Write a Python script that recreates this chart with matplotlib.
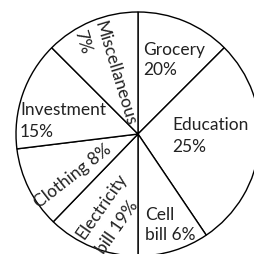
import matplotlib.pyplot as plt

# --- DADOS ---
categorias = ['Grocery', 'Education', 'Cell bill', 'Electricity bill',
              'Clothing', 'Investment', 'Miscellaneous']
percentuais = [20, 25, 6, 19, 8, 15, 7]
# tamanho das fatias como desenhadas na figura (graus, não proporcional)
angulos = [45, 101, 34, 44, 39, 52, 45]

plt.rcParams['font.family'] = ['Lato', 'DejaVu Sans']

fig = plt.figure(figsize=(2.55, 2.55), dpi=100)
ax = fig.add_axes([0, 0, 1, 1])

# pizza branca com contorno preto (centro em coordenadas de pixel)
ax.pie(angulos, startangle=90, counterclock=False, center=(138, 120),
       radius=122, colors=['white'] * len(angulos), frame=True,
       wedgeprops=dict(edgecolor='black', linewidth=1.0))
ax.set_xlim(0, 255)
ax.set_ylim(0, 255)
ax.set_aspect('equal')
ax.axis('off')

fs = 12.5
H = 255


def txt(x, y, s, **kw):
    ax.text(x, H - y, s, fontsize=fs, color='#222222', **kw)


# textos horizontais (x esquerda, y linha base em pixels da imagem)
txt(143, 55, categorias[0])
txt(143, 75, f'{percentuais[0]}%')
txt(172, 130, categorias[1])
txt(172, 152, f'{percentuais[1]}%')
txt(145, 220, 'Cell')
txt(145, 240, f'bill {percentuais[2]}%')
txt(20, 115, categorias[5])
txt(20, 137, f'{percentuais[5]}%')

# textos girados
txt(73, 176, f'{categorias[4]} {percentuais[4]}%', rotation=38,
    ha='center', va='center', rotation_mode='anchor')
txt(102, 206, 'Electricity', rotation=55, ha='center', va='center',
    rotation_mode='anchor')
txt(117, 227, f'bill {percentuais[3]}%', rotation=55, ha='center',
    va='center', rotation_mode='anchor')
txt(115, 73, categorias[6], rotation=-73, ha='center', va='center',
    rotation_mode='anchor')
txt(82, 42, f'{percentuais[6]}%', rotation=-73, ha='center', va='center',
    rotation_mode='anchor')

fig.savefig('out.png', dpi=100)
